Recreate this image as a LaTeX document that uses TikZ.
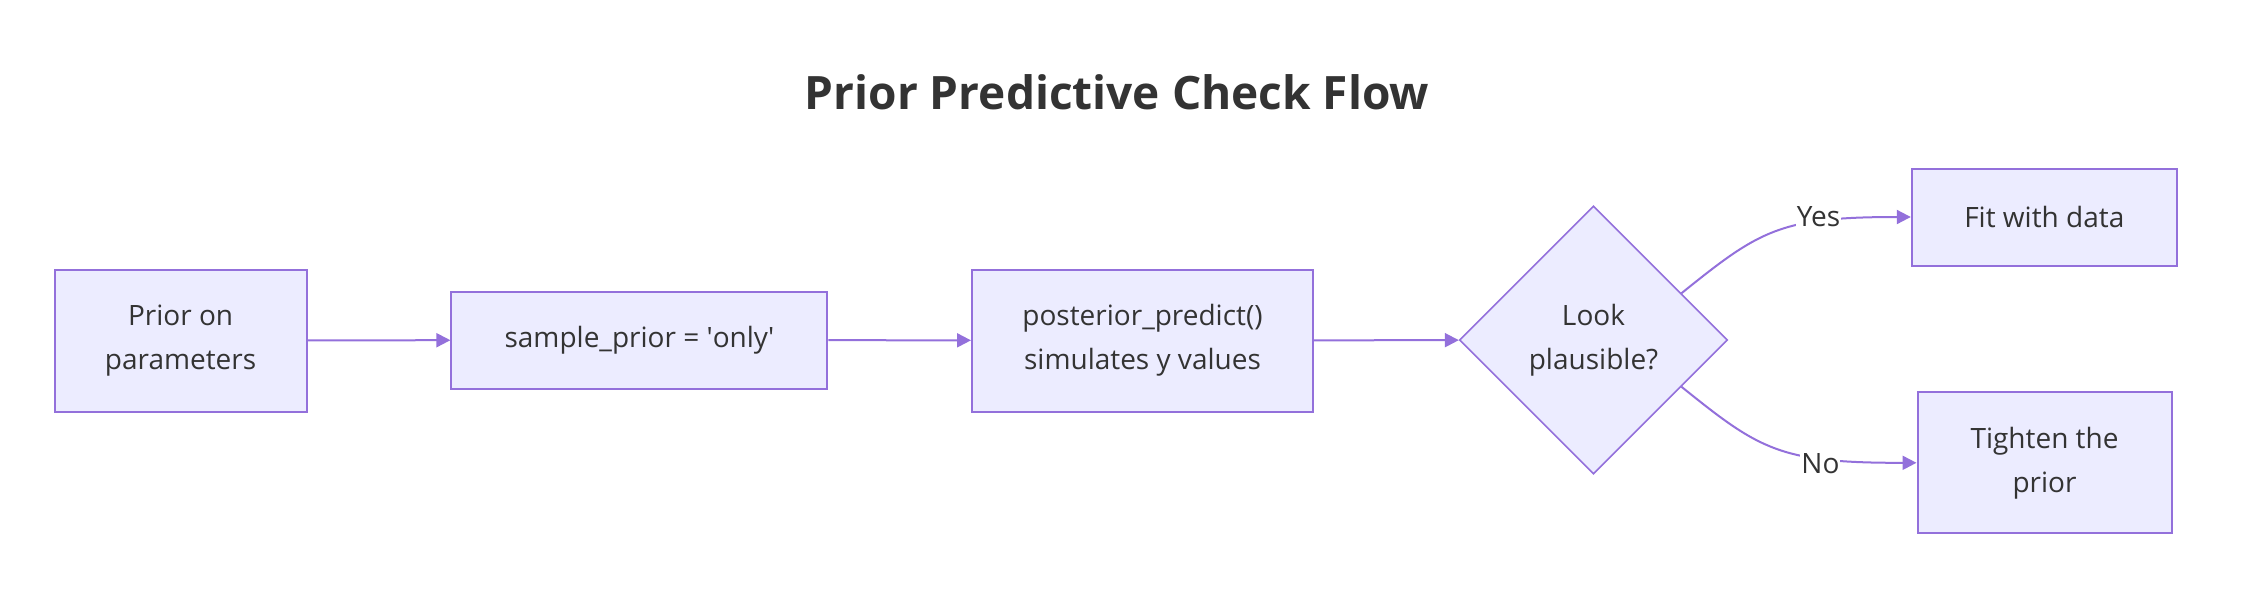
\documentclass[tikz,border=0pt]{standalone}
\usepackage{fontspec}
\setmainfont{Open Sans}
\usepackage{tikz}
\usetikzlibrary{arrows.meta,shapes.geometric}
\definecolor{boxfill}{HTML}{ECECFF}
\definecolor{boxline}{HTML}{9370DB}
\definecolor{ink}{HTML}{333333}
\begin{document}
\begin{tikzpicture}[x=1pt,y=-1pt,>={Triangle[length=14pt,width=14pt]},
    box/.style={draw=boxline,fill=boxfill,line width=2pt,inner sep=0pt,align=center,
        text=ink,font=\fontsize{28}{44}\selectfont},
    ask/.style={diamond,draw=boxline,fill=boxfill,line width=1.6pt,inner sep=0pt,aspect=1,
        minimum width=268pt,minimum height=268pt,align=center,text=ink,
        font=\fontsize{28}{44}\selectfont},
    edge/.style={draw=boxline,line width=2pt,->},
    lbl/.style={fill=white,inner sep=1pt,text=ink,font=\fontsize{28}{30}\selectfont}]
        \useasboundingbox (0,0) rectangle (2248,592);
        \node[anchor=base,text=ink,font=\fontsize{46}{50}\selectfont\bfseries] (title) at (1117,109) {Prior Predictive Check Flow};
        % main row
        \node[box,minimum width=252pt,minimum height=142pt] (prior) at (180.6,340.5) {Prior on\\parameters};
        \node[box,minimum width=376pt,minimum height=97pt] (sample) at (639.4,340) {sample\_prior = \textquotesingle only\textquotesingle};
        \node[box,minimum width=341pt,minimum height=142pt] (predict) at (1142.5,340.5) {posterior\_predict()\\simulates y values};
        \node[ask] (check) at (1593.5,340) {Look\\plausible?};
        % outcomes
        \node[box,minimum width=265pt,minimum height=97pt] (fit) at (2044.3,217) {Fit with data};
        \node[box,minimum width=254pt,minimum height=141pt] (tighten) at (2044.5,462.8) {Tighten the\\prior};
        \foreach \a/\b in {prior/sample,sample/predict,predict/check}
        {
            \draw[edge] (\a) -- (\b);
        }
        \draw[edge] (check.28) .. controls (1760,230) and (1780,217) .. (fit.west) node[lbl,pos=0.7,yshift=5pt] (yes) {Yes};
        \draw[edge] (check.-28) .. controls (1760,450) and (1780,463) .. (tighten.west) node[lbl,pos=0.7,yshift=-5pt] (no) {No};
    \end{tikzpicture}
\end{document}
